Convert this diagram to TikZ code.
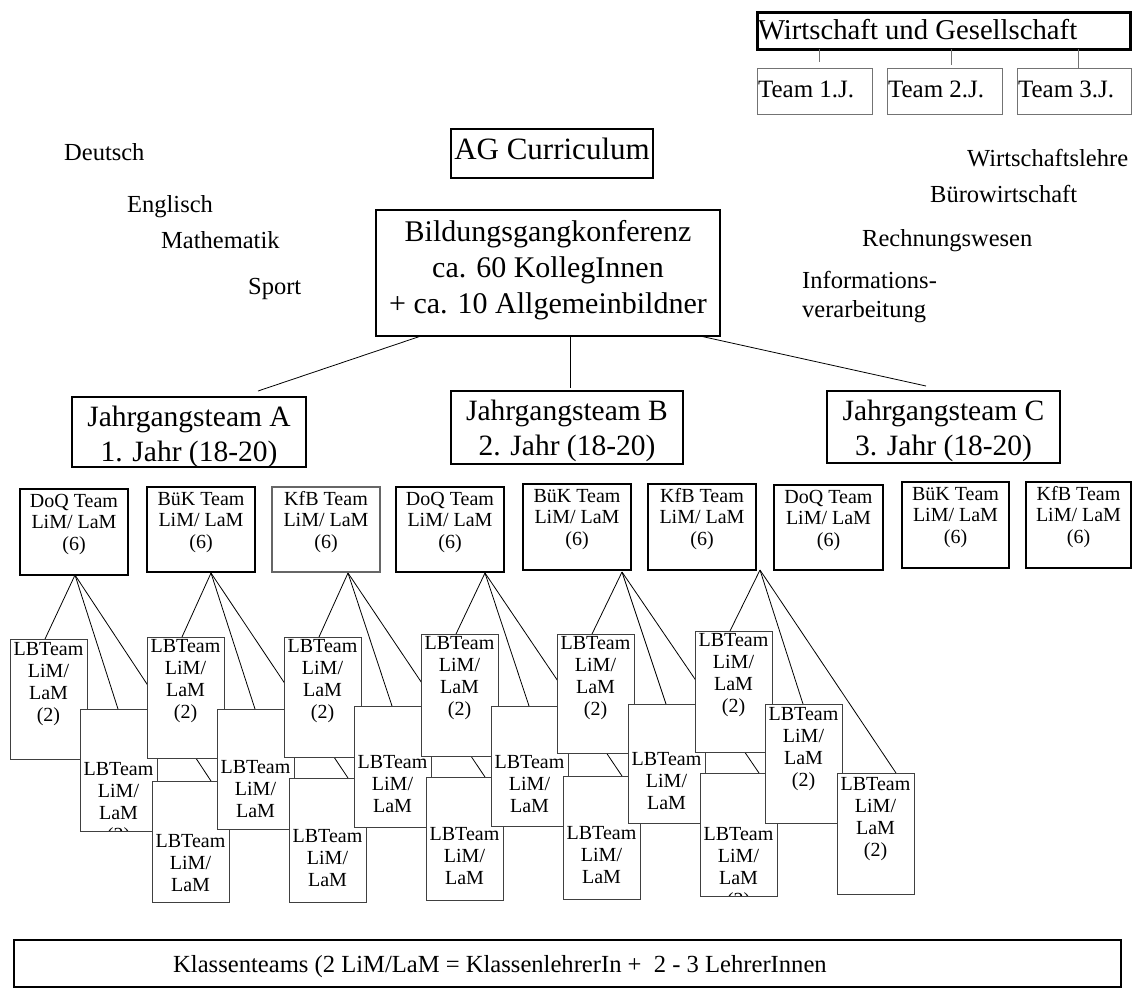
\documentclass[tikz,border=0pt]{standalone}
\usepackage{fontspec}
\setmainfont{Liberation Serif}
\pgfdeclarelayer{background}
\pgfsetlayers{background,main}
\newcommand\fsz[2]{\fontsize{#1pt}{#2pt}\selectfont}
\newcommand\lbfour{LBTeam\\LiM/\\LaM\\(2)\hspace{8pt}}
\newcommand\lbthree{LBTeam\\LiM/\\LaM}
\begin{document}
\begin{tikzpicture}[x=1pt,y=-1pt,
  box/.style={draw=black, fill=white, inner sep=0pt, outer sep=0pt, anchor=north west},
  heavy/.style={box, line width=2.4pt},
  light/.style={box, line width=1pt, draw=black!55},
  sz/.style 2 args={minimum width=#1pt, minimum height=#2pt},
  ctext/.style n args={3}{path picture={\node[inner sep=0pt, outer sep=0pt, anchor=base, minimum width=0pt, minimum height=0pt, draw=none, fill=none, font=#3] at ([yshift=-#1pt]path picture bounding box.north) {\begin{tabular}[t]{@{}c@{}}#2\end{tabular}};}},
  ltext/.style n args={3}{path picture={\node[inner sep=0pt, outer sep=0pt, anchor=base west, minimum width=0pt, minimum height=0pt, draw=none, fill=none, font=#3] at ([xshift=1pt,yshift=-#1pt]path picture bounding box.north west) {#2};}},
  side/.style={anchor=base west, inner sep=0pt, font=\fsz{24.5}{29}},
  midbox/.style={heavy, sz={108}{86}, ctext={18}{#1}{\fsz{20}{21.5}}},
  jbox/.style={heavy, ctext={29}{#1}{\fsz{29.5}{35}}},
  lb/.style n args={3}{box, line width=0.9pt, draw=black!75, minimum width=77pt, minimum height=#2pt, ctext={#1}{#3}{\fsz{20}{22.3}}},
  conn/.style={draw=black, line width=0.8pt},
  gconn/.style={draw=black!55, line width=1pt}
]
\useasboundingbox (0,0) rectangle (1133,989);

% ---------- top right ----------
\node[heavy, line width=3pt, sz={373}{37}, ltext={27}{Wirtschaft und Gesellschaft}{\fsz{28.7}{34}}] (wug) at (757,12) {};
\node[light, sz={115}{46}, ltext={29}{Team 1.J.}{\fsz{25}{30}}] (t1) at (757,68) {};
\node[light, sz={115}{46}, ltext={29}{Team 2.J.}{\fsz{25}{30}}] (t2) at (887,68) {};
\node[light, sz={114}{46}, ltext={29}{Team 3.J.}{\fsz{25}{30}}] (t3) at (1017,68) {};
\coordinate (w1) at (819,62);
\coordinate (w2) at (951,65);
\coordinate (w3) at (1078,68);
\draw[gconn] ([xshift=62pt]wug.south west) -- (w1);
\draw[gconn] ([xshift=194pt]wug.south west) -- (w2);
\draw[gconn] ([xshift=321pt]wug.south west) -- (w3);

% ---------- centre ----------
\node[heavy, sz={202}{49}, ctext={30}{AG Curriculum}{\fsz{31}{36}}] (ag) at (451,129) {};
\node[heavy, sz={344}{126}, ctext={31}{Bildungsgangkonferenz\\ca. 60 KollegInnen\\+ ca. 10 Allgemeinbildner}{\fsz{30}{36}}] (bgk) at (376,210) {};

\node[side] (deu) at (64,160) {Deutsch};
\node[side] (eng) at (127,212) {Englisch};
\node[side] (mat) at (161,248) {Mathematik};
\node[side] (spo) at (248,294) {Sport};
\node[side] (wl) at (967,166) {Wirtschaftslehre};
\node[side] (bw) at (930,202) {Bürowirtschaft};
\node[side] (rw) at (862,246) {Rechnungswesen};
\node[side] (iv) at (802,288) {\begin{tabular}[t]{@{}l@{}}Informations-\\verarbeitung\end{tabular}};

% ---------- year teams ----------
\node[jbox={Jahrgangsteam A\\1. Jahr (18-20)}, sz={234}{70}] (jA) at (72,397) {};
\node[jbox={Jahrgangsteam B\\2. Jahr (18-20)}, sz={232}{73}] (jB) at (451,391) {};
\node[jbox={Jahrgangsteam C\\3. Jahr (18-20)}, sz={233}{72}] (jC) at (827,391) {};
\coordinate (eA) at (258,391);
\coordinate (eB) at (570,388);
\coordinate (eC) at (926,386);
\draw[conn] ([xshift=45pt]bgk.south west) -- (eA);
\draw[conn] ([xshift=194pt]bgk.south west) -- (eB);
\draw[conn] ([xshift=324pt]bgk.south west) -- (eC);

% ---------- subject teams ----------
\node[midbox={DoQ Team\\LiM/ LaM\\(6)}] (doqA) at (20,489) {};
\node[midbox={BüK Team\\LiM/ LaM\\(6)}, minimum height=85pt] (bukA) at (147,487) {};
\node[midbox={KfB Team\\LiM/ LaM\\(6)}, minimum height=85pt, line width=1.2pt, draw=black!60] (kfbA) at (272,487) {};
\node[midbox={DoQ Team\\LiM/ LaM\\(6)}, minimum height=85pt] (doqB) at (396,487) {};
\node[midbox={BüK Team\\LiM/ LaM\\(6)}] (bukB) at (523,484) {};
\node[midbox={KfB Team\\LiM/ LaM\\(6)}] (kfbB) at (648,484) {};
\node[midbox={DoQ Team\\LiM/ LaM\\(6)}, minimum width=109pt, minimum height=85pt] (doqC) at (774,485) {};
\node[midbox={BüK Team\\LiM/ LaM\\(6)}, minimum width=107pt] (bukC) at (902,482) {};
\node[midbox={KfB Team\\LiM/ LaM\\(6)}, minimum width=105pt] (kfbC) at (1026,482) {};

% ---------- class teams ----------
\node[lb={16}{120}{\lbfour}]  (A1) at (10,639) {};
\node[lb={66}{122}{\lbfour}]  (A2) at (80,709) {};
\node[lb={66}{121}{\lbthree}] (A3) at (152,781) {};
\node[lb={15}{121}{\lbfour}]  (B1) at (147,637) {};
\node[lb={64}{120}{\lbthree}] (B2) at (217,709) {};
\node[lb={64}{124}{\lbthree}] (B3) at (289,778) {};
\node[lb={15}{120}{\lbfour}]  (C1) at (284,637) {};
\node[lb={62}{121}{\lbthree}] (C2) at (354,706) {};
\node[lb={63}{123}{\lbthree}] (C3) at (426,777) {};
\node[lb={15}{122}{\lbfour}]  (D1) at (421,634) {};
\node[lb={62}{120}{\lbthree}] (D2) at (491,706) {};
\node[lb={63}{123}{\lbthree}] (D3) at (563,776) {};
\node[lb={15}{119}{\lbfour}]  (E1) at (557,634) {};
\node[lb={61}{119}{\lbthree}] (E2) at (628,704) {};
\node[lb={67}{123}{\lbfour}]  (E3) at (700,773) {};
\node[lb={15}{121}{\lbfour}]  (F1) at (695,631) {};
\node[lb={16}{119}{\lbfour}]  (F2) at (765,704) {};
\node[lb={17}{121}{LBTeam\\LiM/\\LaM\\(2)}]  (F3) at (837,773) {};

\coordinate (apA) at (75,575);
\coordinate (apB) at (211,573);
\coordinate (apC) at (348,573);
\coordinate (apD) at (485,573);
\coordinate (apE) at (622,572);
\coordinate (apF) at (760,570);

\begin{pgfonlayer}{background}
\foreach \t in {A,B,C,D,E,F}{
  \draw[conn] (ap\t) -- ([xshift=35pt]\t1.north west);
  \draw[conn] (ap\t) -- ([xshift=38pt]\t2.north west);
  \draw[conn] (ap\t) -- ([xshift=59pt]\t3.north west);
}
\end{pgfonlayer}

% ---------- bottom ----------
\node[box, line width=2pt, sz={1107}{47}] (kbox) at (14,940) {};
\node[anchor=base west, inner sep=0pt, font=\fsz{24.6}{30}] (ktext) at (173,972) {Klassenteams (2 LiM/LaM = KlassenlehrerIn +\ \ 2 - 3 LehrerInnen};
\end{tikzpicture}
\end{document}
